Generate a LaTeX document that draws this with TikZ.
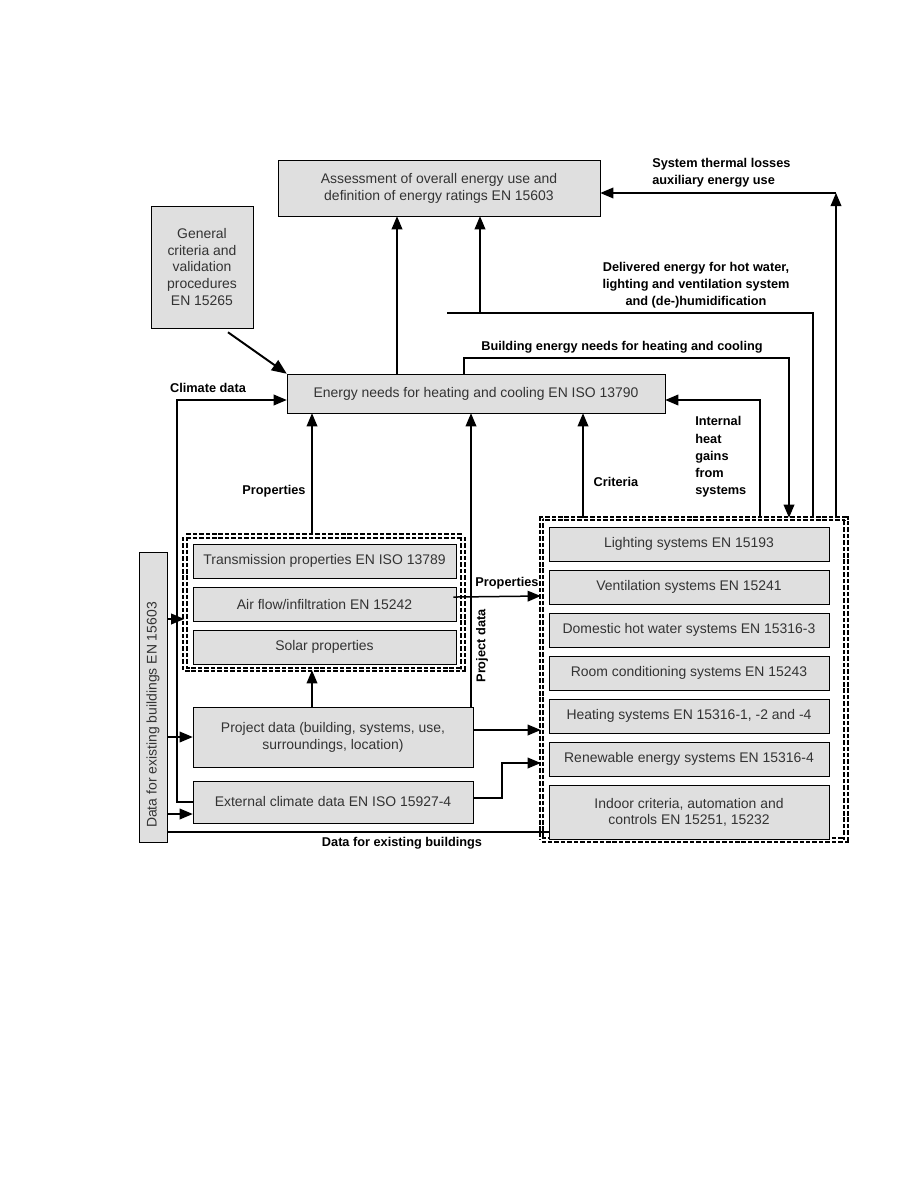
\documentclass[tikz,border=0pt]{standalone}
\usepackage{fontspec}
\setmainfont{Liberation Sans}
\usetikzlibrary{arrows,positioning,shadows,calc}

\begin{document}
\begin{tikzpicture}[x=0.6667pt,y=-0.6667pt,>=triangle 45,
	sysbox/.style={draw,fill=gray!25,text=black!80,align=center,inner sep=1pt,
		font=\fontsize{9.3}{11.2}\selectfont,
		drop shadow={shadow xshift=0.8pt,shadow yshift=-0.8pt,fill=black,opacity=1}},
	group/.style={draw,double,double distance=1.2pt,line width=1.1pt,
		dash pattern=on 3pt off 1.3pt},
	flow/.style={line width=1pt},
	lbl/.style={font=\fontsize{8.5}{11.5}\selectfont\bfseries,inner sep=0pt}]

	\useasboundingbox (0,0) rectangle (918,1188);

	\node[sysbox,minimum width=214.7pt,minimum height=37.3pt] (assess) at (439,188) {Assessment of overall energy use and\\definition of energy ratings EN 15603};
	\node[sysbox,minimum width=68pt,minimum height=81.3pt] (general) at (202,267) {General\\criteria and\\validation\\procedures\\EN 15265};
	\node[sysbox,minimum width=252pt,minimum height=26pt] (needs) at (476,393.5) {Energy needs for heating and cooling EN ISO 13790};

	% building properties
	\node[group,minimum width=185.3pt,minimum height=89pt] (props) at (324,602.75) {};
	\node[sysbox,minimum width=175.3pt,minimum height=22.7pt] (trans) at (324.5,561) {Transmission properties EN ISO 13789};
	\node[sysbox,minimum width=175.3pt,minimum height=22.7pt] (air) [below=5.6pt of trans] {Air flow/infiltration EN 15242};
	\node[sysbox,minimum width=175.3pt,minimum height=22.7pt] (solar) [below=5.6pt of air] {Solar properties};

	\node[sysbox,minimum width=186.7pt,minimum height=40pt] (pdata) at (333,737) {Project data (building, systems, use,\\surroundings, location)};
	\node[sysbox,minimum width=186.7pt,minimum height=28pt] (clim) at (333,802) {External climate data EN ISO 15927-4};
	\node[sysbox,minimum width=18.7pt,minimum height=193.3pt] (dexist) at (153,697) {};
	\node[rotate=90,text=black!80,inner sep=0pt,font=\fontsize{9.3}{11.2}\selectfont] (dexisttxt) at (153,715) {Data for existing buildings EN 15603};

	% systems
	\node[group,minimum width=203pt,minimum height=214.3pt] (sys) at (693.75,679.25) {};
	\node[sysbox,minimum width=186.7pt,minimum height=22.7pt] (light) at (689,544) {Lighting systems EN 15193};
	\node[sysbox,minimum width=186.7pt,minimum height=22.7pt] (vent) [below=5.6pt of light] {Ventilation systems EN 15241};
	\node[sysbox,minimum width=186.7pt,minimum height=22.7pt] (dhw) [below=5.6pt of vent] {Domestic hot water systems EN 15316-3};
	\node[sysbox,minimum width=186.7pt,minimum height=22.7pt] (room) [below=5.6pt of dhw] {Room conditioning systems EN 15243};
	\node[sysbox,minimum width=186.7pt,minimum height=22.7pt] (heat) [below=5.6pt of room] {Heating systems EN 15316-1, -2 and -4};
	\node[sysbox,minimum width=186.7pt,minimum height=22.7pt] (renew) [below=5.6pt of heat] {Renewable energy systems EN 15316-4};
	\node[sysbox,minimum width=186.7pt,minimum height=36pt] (indoor) [below=5.6pt of renew] {Indoor criteria, automation and\\controls EN 15251, 15232};

	% bends
	\coordinate (dl) at (447,313);
	\coordinate (dj) at (480,313);
	\coordinate (st) at (836,193);
	\coordinate (ccl) at (177,400);
	\coordinate (cbend) at (502,798);

	\draw[flow,->] (397,0 |- needs.north) -- (397,0 |- assess.south);
	\draw[flow] (dl) -- (813,313) -- (813,0 |- sys.north);
	\draw[flow,->] (dj) -- (dj |- assess.south);
	\draw[flow,->] (st |- sys.north) -- (st);
	\draw[flow,->] (st) -- (assess.east |- st);
	\draw[flow,->] (464,0 |- needs.north) -- (464,358) -- (789,358) -- (789,0 |- sys.north);
	\draw[flow,->] (760,0 |- sys.north) -- (760,400) -- (needs.east |- 0,400);
	\draw[flow,->] (583,0 |- sys.north) -- (583,0 |- needs.south);
	\draw[flow,->] (312,0 |- props.north) -- (312,0 |- needs.south);
	\draw[flow,->] (471,0 |- pdata.north) -- (471,0 |- needs.south);
	\draw[flow,->] (312,0 |- pdata.north) -- (312,0 |- props.south);
	\draw[flow,->] (clim.west) -- (ccl |- clim.west) -- (ccl) -- (needs.west |- ccl);
	\draw[line width=1.3pt,->] ($(general.south)+(26,4)$) -- (needs.north west);

	\draw[flow,->] (dexist.east |- 0,619) -- (props.west |- 0,619);
	\draw[flow,->] (dexist.east |- pdata.west) -- (pdata.west);
	\draw[flow,->] (dexist.east |- 0,814) -- (clim.west |- 0,814);
	\draw[flow] (dexist.east |- 0,832) -- (indoor.west |- 0,832);

	\draw[flow,->] ($(air.east)+(-3,-7)$) -- (sys.west |- 0,596);
	\draw[flow,->] (pdata.east |- 0,730) -- (sys.west |- 0,730);
	\draw[flow,->] (clim.east |- cbend) -- (cbend) -- (cbend |- 0,763) -- (sys.west |- 0,763);

	% labels
	\node[lbl,anchor=west,align=left] (stlbl) at (652,173) {System thermal losses\\auxiliary energy use};
	\node[lbl,align=center] (dellbl) at (696,285) {Delivered energy for hot water,\\lighting and ventilation system\\and (de-)humidification};
	\node[lbl] (bldlbl) at (622,347) {Building energy needs for heating and cooling};
	\node[lbl] (climlbl) at (208,388) {Climate data};
	\node[lbl] (proplbl) at (274,491) {Properties};
	\node[lbl] (critlbl) at (616,482) {Criteria};
	\node[lbl,anchor=west,align=left] (intlbl) at (695,457) {Internal\\heat\\gains\\from\\systems};
	\node[lbl] (prop2lbl) at (507,583) {Properties};
	\node[lbl,rotate=90] (pdlbl) at (482,646) {Project data};
	\node[lbl] (delbl) at (402,843) {Data for existing buildings};

\end{tikzpicture}
\end{document}
